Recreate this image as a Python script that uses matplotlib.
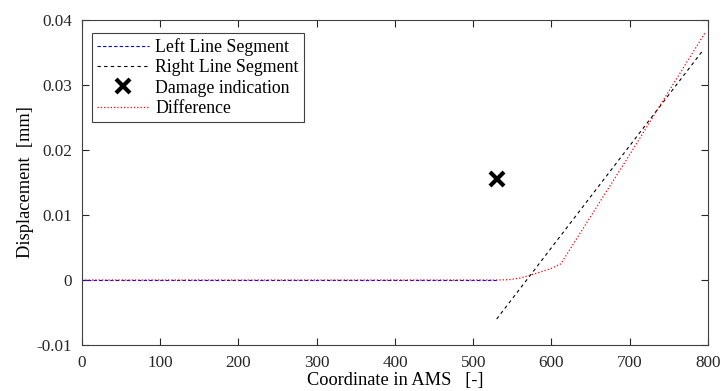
import matplotlib.pyplot as plt

plt.rcParams['font.family'] = ['Liberation Serif', 'DejaVu Serif']
plt.rcParams['font.size'] = 12.8

# Fitted line segments and difference curve along the AMS coordinate
left_x = [0, 530]
left_y = [0.0, 0.0]

right_x = [530, 794]
right_y = [-0.0060, 0.0354]

damage_x = [530]
damage_y = [0.0155]

diff_x = [0, 530, 545, 560, 580, 600, 612, 700, 796]
diff_y = [0.0, 0.0, 0.00005, 0.0003, 0.0010, 0.0018, 0.0025, 0.0193, 0.0380]

fig = plt.figure(figsize=(7.23, 3.91), dpi=100)
ax = fig.add_axes([0.1134, 0.1176, 0.8658, 0.8312])

ax.plot(left_x, left_y, '--', color='blue', lw=0.8, dashes=(3, 2), label='Left Line Segment')
ax.plot(right_x, right_y, '--', color='black', lw=0.8, dashes=(3, 3), label='Right Line Segment')
ax.plot(damage_x, damage_y, 'x', color='black', ms=10, mew=3, label='Damage indication')
ax.plot(diff_x, diff_y, ':', color='red', lw=0.9, label='Difference')

ax.set_xlim(0, 800)
ax.set_ylim(-0.01, 0.04)
ax.set_xticks(range(0, 801, 100))
ax.set_yticks([-0.01, 0, 0.01, 0.02, 0.03, 0.04])
ax.set_yticklabels(['-0.01', '0', '0.01', '0.02', '0.03', '0.04'])
ax.tick_params(direction='in', top=True, right=True, length=5, colors='#262626',
               pad=7, labelsize=12.3)
for s in ax.spines.values():
    s.set_color('#404040')
    s.set_linewidth(0.8)

ax.set_xlabel('Coordinate in AMS   [-]', fontsize=13.2, labelpad=1)
ax.set_ylabel('Displacement  [mm]', fontsize=13.2, labelpad=2)

leg = ax.legend(loc='upper left', bbox_to_anchor=(0.016, 0.96), fancybox=False,
                edgecolor='#404040', framealpha=1, handlelength=2.9,
                handletextpad=0.35, borderpad=0.3, labelspacing=0.18, borderaxespad=0)
leg.get_frame().set_linewidth(0.8)

fig.savefig('out.png', dpi=100)
